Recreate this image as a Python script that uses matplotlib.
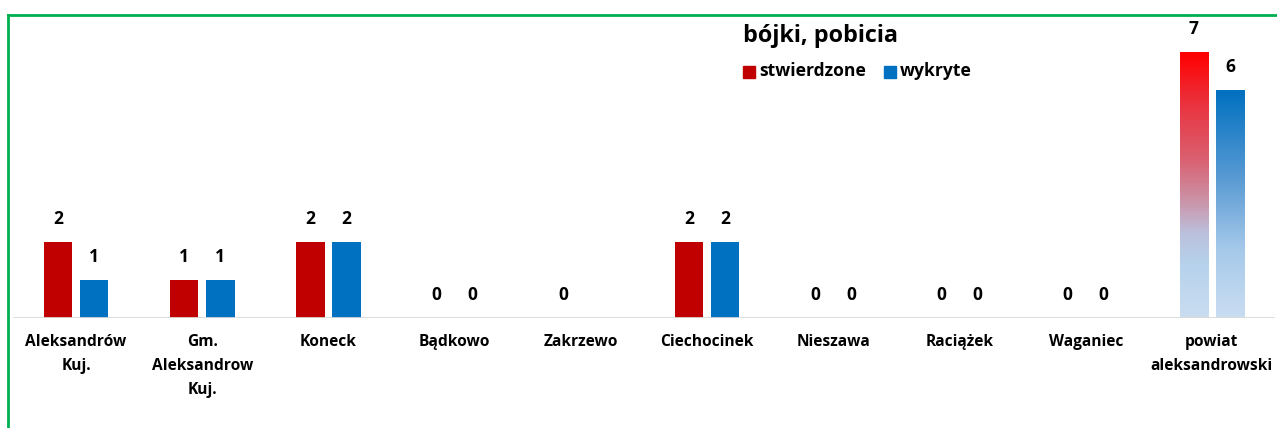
import numpy as np
import matplotlib
matplotlib.use("Agg")
import matplotlib.pyplot as plt
from matplotlib.colors import LinearSegmentedColormap
from matplotlib.patches import Rectangle
from matplotlib.lines import Line2D

categories = ["Aleksandrów\nKuj.", "Gm.\nAleksandrow\nKuj.", "Koneck", "Bądkowo", "Zakrzewo",
              "Ciechocinek", "Nieszawa", "Raciążek", "Waganiec", "powiat\naleksandrowski"]
stwierdzone = [2, 1, 2, 0, 0, 2, 0, 0, 0, 7]
wykryte = [1, 1, 2, 0, np.nan, 2, 0, 0, 0, 6]
title = "bójki, pobicia"
series_names = ["stwierdzone", "wykryte"]

RED = "#C00000"
BLUE = "#0070C0"
GREEN = "#00B050"
FONT = ["Open Sans", "DejaVu Sans"]

plt.rcParams["font.family"] = FONT
plt.rcParams["font.weight"] = "bold"

W, H = 1277, 428
fig = plt.figure(figsize=(W / 100, H / 100), dpi=100)
ax = fig.add_axes([13 / W, 110 / H, 1262 / W, 304 / H])

x = np.arange(len(categories))
bw = 0.225
off = 0.143
b1 = ax.bar(x - off, stwierdzone, bw, color=RED, zorder=2)
b2 = ax.bar(x + off, np.nan_to_num(wykryte), bw, color=BLUE, zorder=2)
for i, v in enumerate(wykryte):
    if np.isnan(v):
        b2[i].set_visible(False)

# gradient fill for the last group
red_cmap = LinearSegmentedColormap.from_list(
    "rg", [(0.0, "#CADDF1"), (0.2, "#B6D2EC"), (0.32, "#BCC0DC"), (0.45, "#CC90A4"),
           (0.6, "#DA6070"), (0.8, "#EA3440"), (1.0, "#FF0000")])
blue_cmap = LinearSegmentedColormap.from_list(
    "bg", [(0.0, "#CADDF1"), (0.3, "#A6C9EA"), (0.6, "#5C9CD4"), (1.0, "#0070C0")])
grad = np.linspace(0, 1, 256).reshape(-1, 1)
for bar, cm in ((b1[-1], red_cmap), (b2[-1], blue_cmap)):
    x0, y0 = bar.get_x(), bar.get_y()
    w, h = bar.get_width(), bar.get_height()
    bar.set_facecolor("none")
    ax.imshow(grad, cmap=cm, origin="lower", aspect="auto",
              extent=[x0, x0 + w, y0, y0 + h], zorder=2.5)

ax.set_xlim(-0.5, len(categories) - 0.5)
ax.set_ylim(0, 8)
for s in ax.spines.values():
    s.set_visible(False)
ax.set_xticks([])
ax.set_yticks([])
ax.axhline(0, color="#D9D9D9", lw=2, zorder=3)

# value labels
for bars, vals in ((b1, stwierdzone), (b2, wykryte)):
    for bar, v in zip(bars, vals):
        if np.isnan(v):
            continue
        ax.annotate(f"{int(v)}", (bar.get_x() + bar.get_width() / 2, v),
                    xytext=(0, 16.5), textcoords="offset points", ha="center",
                    va="center", fontsize=12.5, fontweight="bold", color="black")

# category labels
for i, c in enumerate(categories):
    ax.annotate(c, (i, 0), xytext=(0, -11.5), textcoords="offset points",
                ha="center", va="top", fontsize=11.2, fontweight="bold",
                linespacing=1.68, color="black")

# title and legend
fig.text(743 / W, 1 - 36.5 / H, title, fontsize=16.8, fontweight="bold",
         ha="left", va="center")
fig.patches.append(Rectangle((743 / W, 1 - 78 / H), 12 / W, 12 / H,
                             transform=fig.transFigure, color=RED))
fig.text(759 / W, 1 - 71 / H, series_names[0], fontsize=12.6, fontweight="bold",
         ha="left", va="center")
fig.patches.append(Rectangle((884 / W, 1 - 78 / H), 12 / W, 12 / H,
                             transform=fig.transFigure, color=BLUE))
fig.text(900 / W, 1 - 71 / H, series_names[1], fontsize=12.6, fontweight="bold",
         ha="left", va="center")

# green frame
fig.add_artist(Line2D([7.5 / W, 7.5 / W], [0, 1 - 14.5 / H], transform=fig.transFigure,
                      color=GREEN, lw=2))
fig.add_artist(Line2D([7.5 / W, 1], [1 - 14.5 / H, 1 - 14.5 / H], transform=fig.transFigure,
                      color=GREEN, lw=2))

fig.savefig("out.png", dpi=100)
